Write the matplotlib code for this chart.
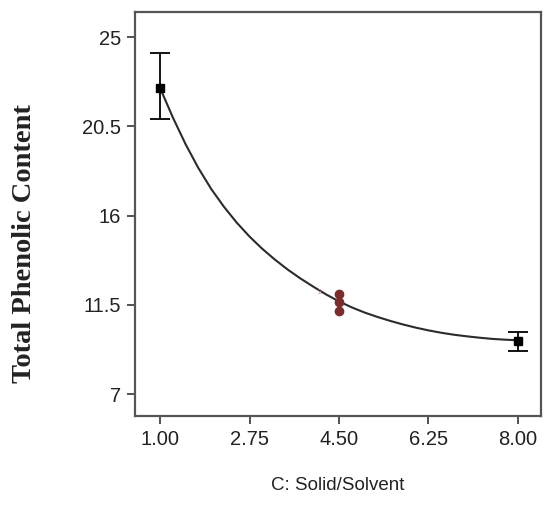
import numpy as np
import matplotlib.pyplot as plt

# fitted curve
curve_x = [1.00, 1.25, 1.50, 1.75, 2.00, 2.25, 2.50, 2.75, 3.00, 3.25,
           3.50, 3.75, 4.00, 4.25, 4.50, 4.75, 5.00, 5.25, 5.50, 5.75,
           6.00, 6.25, 6.50, 6.75, 7.00, 7.25, 7.50, 7.75, 8.00]
curve_y = [22.44, 20.95, 19.60, 18.40, 17.35, 16.45, 15.65, 14.95, 14.33, 13.78,
           13.28, 12.83, 12.42, 12.03, 11.68, 11.38, 11.12, 10.90, 10.70, 10.52,
           10.36, 10.22, 10.10, 10.00, 9.92, 9.85, 9.79, 9.75, 9.72]

# end points with error bars
end_x = [1.0, 8.0]
end_y = [22.44, 9.67]
end_lo = [20.88, 9.17]
end_hi = [24.20, 10.13]

# centre point replicates
mid_x = [4.5, 4.5, 4.5]
mid_y = [12.03, 11.63, 11.18]

xticks = [1.00, 2.75, 4.50, 6.25, 8.00]
yticks = [7, 11.5, 16, 20.5, 25]
ytick_labels = ["7", "11.5", "16", "20.5", "25"]

plt.rcParams['font.family'] = ['Liberation Sans', 'DejaVu Sans']

fig = plt.figure(figsize=(5.49, 5.08), dpi=100)
ax = fig.add_axes([0.246, 0.181, 0.739, 0.795])

ax.plot(curve_x, curve_y, color='#2b2b2b', lw=1.5, zorder=2)

yerr = [np.array(end_y) - np.array(end_lo), np.array(end_hi) - np.array(end_y)]
ax.errorbar(end_x, end_y, yerr=yerr, fmt='s', color='black', ms=6,
            ecolor='black', elinewidth=1.3, capsize=7, capthick=1.3, zorder=3)

ax.scatter(mid_x, mid_y, s=36, color='#7b2d2d', zorder=3)
ax.text(4.13, 12.14, "2", fontsize=5, color='#d89090', ha='center', va='center')

ax.set_xlim(0.51, 8.45)
ax.set_ylim(5.9, 26.26)
ax.set_xticks(xticks)
ax.set_xticklabels(["%.2f" % v for v in xticks])
ax.set_yticks(yticks)
ax.set_yticklabels(ytick_labels)
ax.tick_params(direction='out', length=6, width=1.2, color='#333333',
               labelsize=14.5, labelcolor='#222222', pad=4)

for s in ax.spines.values():
    s.set_color('#555555')
    s.set_linewidth(1.6)

ax.set_xlabel("C: Solid/Solvent", fontsize=13.5, color='#222222', labelpad=20)
ax.set_ylabel("Total Phenolic Content", fontsize=20.5, fontweight='bold',
              family='Liberation Serif', color='#222222')
ax.yaxis.set_label_coords(-0.241, 0.428)

fig.savefig("out.png", dpi=100)
